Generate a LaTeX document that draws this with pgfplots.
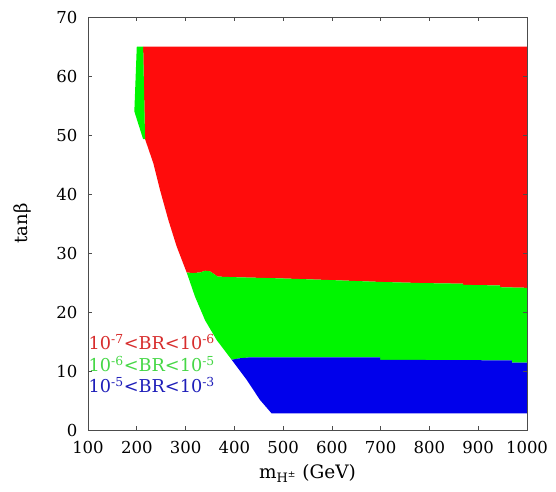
\documentclass[border=0pt]{standalone}
\usepackage{fontspec}
\setmainfont{DejaVu Serif}
\usepackage{pgfplots}
\pgfplotsset{compat=1.18}
\definecolor{regred}{RGB}{255,12,12}
\definecolor{reggreen}{RGB}{0,245,0}
\definecolor{regblue}{RGB}{0,0,235}
\definecolor{txtred}{RGB}{215,45,45}
\definecolor{txtgreen}{RGB}{70,215,70}
\definecolor{txtblue}{RGB}{30,30,185}
\begin{document}
\begin{tikzpicture}
\useasboundingbox (-88pt,-61pt) rectangle (468pt,430pt);
\begin{axis}[
  at={(0,0)}, anchor=south west,
  scale only axis, width=439pt, height=413pt,
  xmin=100, xmax=1000, ymin=0, ymax=70,
  xtick={100,200,...,1000}, ytick={0,10,...,70},
  tick align=inside, major tick length=4pt,
  tick style={black!70, line width=0.6pt},
  axis line style={black!70, line width=0.8pt},
  axis on top,
  /pgf/number format/assume math mode=true,
  /pgf/number format/1000 sep={},
  tick label style={font=\fontsize{16.5}{18}\selectfont},
  xticklabel style={yshift=-8pt},
  yticklabel style={xshift=-7pt},
  xlabel={m\textsubscript{H\textsuperscript{±}} (GeV)},
  ylabel={tanβ},
  xlabel style={font=\fontsize{18.5}{20}\selectfont, at={(axis description cs:0.5,0)}, anchor=base, yshift=-48pt},
  ylabel style={font=\fontsize{18}{20}\selectfont, at={(axis description cs:0,0.5)}, anchor=south, yshift=53pt},
]
% red region
\addplot[fill=regred, draw=none] coordinates {
 (213,65) (1000,65) (1000,24.1) (945,24.2) (945,24.5) (869,24.6) (869,24.8)
 (787,24.9) (699,25.1) (602,25.4) (494,25.7) (400,25.9) (366,26.0) (350,26.9)
 (340,27.0) (330,26.7) (315,26.6) (302.3,26.7)
 (281.8,31.1) (264.7,35.6) (247.6,40.7) (234,45.2) (217,49.3)
} -- cycle;
% green strip at top left
\addplot[fill=reggreen, draw=none] coordinates {
 (200,65) (213,65) (217,49.3) (213,49.3) (195,54)
} -- cycle;
% green region
\addplot[fill=reggreen, draw=none] coordinates {
 (302.3,26.7) (315,26.6) (330,26.7) (340,27.0) (350,26.9) (366,26.0) (400,25.9)
 (494,25.7) (602,25.4) (699,25.1) (787,24.9) (869,24.8) (869,24.6) (945,24.5)
 (945,24.2) (1000,24.1) (1000,11.4) (969,11.4) (969,11.8) (699,11.9) (699,12.3)
 (430,12.3) (410,12.15) (394.6,11.9)
 (363.8,15.25) (340,18.6) (319.4,22.6)
} -- cycle;
% blue region
\addplot[fill=regblue, draw=none] coordinates {
 (394.6,11.9) (410,12.15) (430,12.3) (699,12.3) (699,11.9) (969,11.8) (969,11.4)
 (1000,11.4) (1000,2.8) (476.6,2.8) (452.6,5.1) (425.4,8.5)
} -- cycle;
\node[anchor=base west, inner sep=0pt, text=txtred, font=\fontsize{17.7}{19}\selectfont] at (axis cs:101,13.6) {10\textsuperscript{-7}<BR<10\textsuperscript{-6}};
\node[anchor=base west, inner sep=0pt, text=txtgreen, font=\fontsize{17.7}{19}\selectfont] at (axis cs:101,9.9) {10\textsuperscript{-6}<BR<10\textsuperscript{-5}};
\node[anchor=base west, inner sep=0pt, text=txtblue, font=\fontsize{17.7}{19}\selectfont] at (axis cs:101,6.3) {10\textsuperscript{-5}<BR<10\textsuperscript{-3}};
\end{axis}
\end{tikzpicture}
\end{document}
